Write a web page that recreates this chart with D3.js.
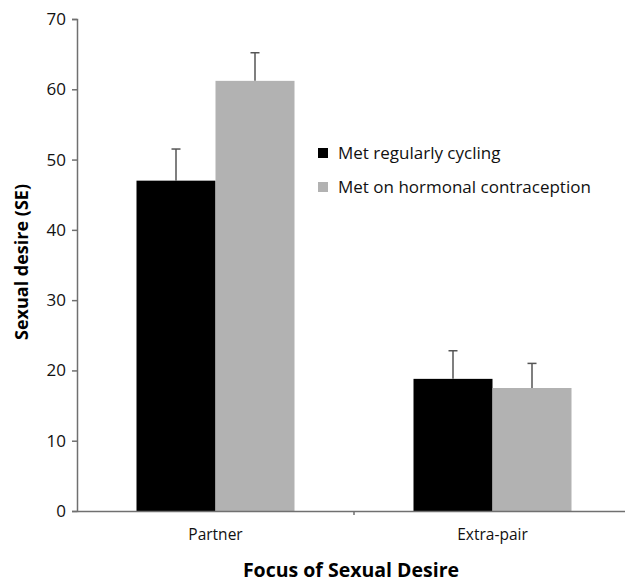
<!DOCTYPE html>
<html>
<head>
<meta charset="utf-8">
<script src="https://cdn.jsdelivr.net/npm/d3@7"></script>
<style>
  body { margin: 0; background: #fff; }
  svg { display: block; font-family: "Open Sans", sans-serif; }
</style>
</head>
<body>
<div id="canvas"></div>
<script>
var categories = ["Partner", "Extra-pair"];
var seriesNames = ["Met regularly cycling", "Met on hormonal contraception"];
var cyclingMeans = [47.0, 18.8];
var cyclingSE = [4.5, 4.0];
var hormonalMeans = [61.2, 17.5];
var hormonalSE = [4.0, 3.5];
var yTicks = [0, 10, 20, 30, 40, 50, 60, 70];
var colors = ["#000000", "#b2b2b2"];

var width = 625, height = 584;
var margin = {top: 19, right: -6, bottom: 73, left: 77};
var innerW = width - margin.left - margin.right;
var innerH = height - margin.top - margin.bottom;

var rows = [];
categories.forEach(function (c, i) {
  rows.push({cat: c, s: 0, v: cyclingMeans[i], se: cyclingSE[i]});
  rows.push({cat: c, s: 1, v: hormonalMeans[i], se: hormonalSE[i]});
});

var svg = d3.select("#canvas").append("svg")
  .attr("width", width)
  .attr("height", height);

var g = svg.append("g")
  .attr("transform", "translate(" + margin.left + "," + margin.top + ")");

var x = d3.scaleBand().domain(categories).range([0, innerW]).paddingInner(0).paddingOuter(0);
var xs = d3.scaleBand().domain([0, 1]).range([x.bandwidth() / 2 - 79, x.bandwidth() / 2 + 79]);
var y = d3.scaleLinear().domain([0, 70]).range([innerH, 0]);

// bars
g.selectAll("rect.bar")
  .data(rows).enter()
  .append("rect")
  .attr("class", "bar")
  .attr("x", function (d) { return x(d.cat) + xs(d.s); })
  .attr("width", xs.bandwidth())
  .attr("y", function (d) { return y(d.v); })
  .attr("height", function (d) { return y(0) - y(d.v); })
  .attr("fill", function (d) { return colors[d.s]; });

// error bars (upper only)
var err = g.selectAll("g.err").data(rows).enter().append("g").attr("class", "err");
err.append("line")
  .attr("x1", function (d) { return x(d.cat) + xs(d.s) + xs.bandwidth() / 2; })
  .attr("x2", function (d) { return x(d.cat) + xs(d.s) + xs.bandwidth() / 2; })
  .attr("y1", function (d) { return y(d.v); })
  .attr("y2", function (d) { return y(d.v + d.se); })
  .attr("stroke", "#555").attr("stroke-width", 1.5);
err.append("line")
  .attr("x1", function (d) { return x(d.cat) + xs(d.s) + xs.bandwidth() / 2 - 4.5; })
  .attr("x2", function (d) { return x(d.cat) + xs(d.s) + xs.bandwidth() / 2 + 4.5; })
  .attr("y1", function (d) { return y(d.v + d.se); })
  .attr("y2", function (d) { return y(d.v + d.se); })
  .attr("stroke", "#555").attr("stroke-width", 1.5);

// y axis
var yAxis = g.append("g")
  .call(d3.axisLeft(y).tickValues(yTicks).tickSize(5).tickPadding(6))
  .attr("font-family", null);
yAxis.select(".domain").attr("stroke", "#707070").attr("stroke-width", 1.5);
yAxis.selectAll(".tick line").attr("stroke", "#707070").attr("stroke-width", 1.5);
yAxis.selectAll(".tick text").attr("font-size", "17px").attr("fill", "#111");

// x axis
var xAxis = g.append("g")
  .attr("transform", "translate(0," + innerH + ")")
  .call(d3.axisBottom(x).tickSize(0).tickPadding(18))
  .attr("font-family", null);
xAxis.select(".domain").attr("stroke", "#707070").attr("stroke-width", 1.5);
xAxis.selectAll(".tick text").attr("font-size", "15.5px").attr("fill", "#111");
// divider tick between categories
g.append("line")
  .attr("x1", x(categories[1])).attr("x2", x(categories[1]))
  .attr("y1", innerH).attr("y2", innerH + 4)
  .attr("stroke", "#707070").attr("stroke-width", 1.5);

// axis titles
svg.append("text")
  .attr("x", 351).attr("y", 577)
  .attr("text-anchor", "middle")
  .attr("font-size", "19.5px").attr("font-weight", "bold")
  .text("Focus of Sexual Desire");
svg.append("text")
  .attr("transform", "translate(28," + 262 + ") rotate(-90)")
  .attr("text-anchor", "middle")
  .attr("font-size", "18px").attr("font-weight", "bold")
  .text("Sexual desire (SE)");

// legend
var legend = svg.append("g").attr("transform", "translate(318,153)");
var li = legend.selectAll("g").data(seriesNames).enter().append("g")
  .attr("transform", function (d, i) { return "translate(0," + i * 34 + ")"; });
li.append("rect").attr("x", 0).attr("y", -5).attr("width", 10).attr("height", 10)
  .attr("fill", function (d, i) { return colors[i]; });
li.append("text").attr("x", 20).attr("y", 0).attr("dy", "0.35em")
  .attr("font-size", "17px").attr("fill", "#111")
  .text(function (d) { return d; });
</script>
</body>
</html>
